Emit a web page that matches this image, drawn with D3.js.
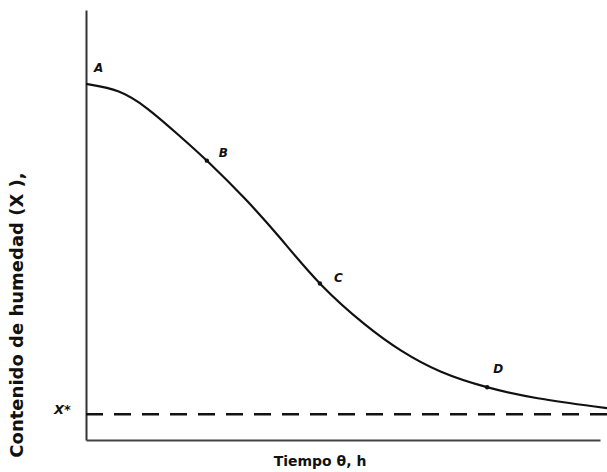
<!DOCTYPE html>
<html>
<head>
<meta charset="utf-8">
<script src="https://cdn.jsdelivr.net/npm/d3@7"></script>
<style>
body { margin: 0; background: #fff; }
</style>
</head>
<body>
<script>
// tiempo (unidades arbitrarias) y contenido de humedad (fracción del eje)
var tiempo  = [0, 0.65, 1.17, 1.8, 2.32, 3.09, 3.72, 4.49, 5.39, 6.03, 6.79, 7.7, 8.58, 10];
var humedad = [0.828, 0.815, 0.774, 0.707, 0.651, 0.558, 0.472, 0.358, 0.263, 0.207, 0.156, 0.121, 0.097, 0.074];
var puntos = ["A", "B", "C", "D"];
var puntosT = [0, 2.32, 4.49, 7.7];
var xEq = 0.06;

window.onload = function() {
	var svg = d3.select("body").append("svg")
	.attr("width", 607)
	.attr("height", 472);

	var x = d3.scaleLinear().domain([0, 10]).range([86, 607]);
	var y = d3.scaleLinear().domain([0, 1]).range([440, 10]);

	// ejes sin marcas
	svg.append("g")
	.attr("transform", "translate(86,0)")
	.call(d3.axisLeft(y).tickValues([]).tickSizeOuter(0))
	.select(".domain").attr("stroke", "#333").attr("stroke-width", 2);

	svg.append("g")
	.attr("transform", "translate(0,440)")
	.call(d3.axisBottom(d3.scaleLinear().domain([0, 10]).range([86, 600])).tickValues([]).tickSizeOuter(0))
	.select(".domain").attr("stroke", "#444").attr("stroke-width", 2);

	// humedad de equilibrio
	svg.append("line")
	.attr("x1", x(0)).attr("x2", x(10))
	.attr("y1", y(xEq)).attr("y2", y(xEq))
	.attr("stroke", "#111")
	.attr("stroke-width", 2.5)
	.attr("stroke-dasharray", "17,11");

	var data = tiempo.map(function(t, i) { return [t, humedad[i]]; });
	var line = d3.line()
	.x(function(d) { return x(d[0]); })
	.y(function(d) { return y(d[1]); })
	.curve(d3.curveBasis);

	var path = svg.append("path")
	.datum(data)
	.attr("d", line)
	.attr("fill", "none")
	.attr("stroke", "#111")
	.attr("stroke-width", 2.2);

	// punto de la curva para un tiempo dado
	var node = path.node();
	var total = node.getTotalLength();
	function onCurve(t) {
		var px = x(t), lo = 0, hi = total;
		for (var k = 0; k < 30; k++) {
			var mid = (lo + hi) / 2;
			if (node.getPointAtLength(mid).x < px) lo = mid; else hi = mid;
		}
		return node.getPointAtLength(lo);
	}
	var pos = puntosT.map(onCurve);
	var offs = [[8, -12], [12, -4], [14, -2], [6, -14]];

	svg.selectAll(".lbl")
	.data(puntos)
	.enter()
	.append("text")
	.attr("x", function(d, i) { return pos[i].x + offs[i][0]; })
	.attr("y", function(d, i) { return pos[i].y + offs[i][1]; })
	.attr("font-family", "DejaVu Sans")
	.attr("font-size", 12)
	.attr("font-weight", "bold")
	.attr("font-style", "italic")
	.attr("fill", "#111")
	.text(function(d) { return d; });

	svg.selectAll(".pt")
	.data(pos.slice(1))
	.enter()
	.append("circle")
	.attr("cx", function(d) { return d.x; })
	.attr("cy", function(d) { return d.y; })
	.attr("r", 2.2)
	.attr("fill", "#111");

	svg.append("text")
	.attr("x", 54).attr("y", y(xEq))
	.attr("font-family", "DejaVu Sans")
	.attr("font-size", 13)
	.attr("font-weight", "bold")
	.attr("font-style", "italic")
	.attr("fill", "#111")
	.text("X*");

	svg.append("text")
	.attr("transform", "translate(23,315) rotate(-90)")
	.attr("text-anchor", "middle")
	.attr("font-family", "DejaVu Sans")
	.attr("font-size", 18)
	.attr("font-weight", "bold")
	.attr("fill", "#111")
	.text("Contenido de humedad (X ),");

	svg.append("text")
	.attr("x", 320).attr("y", 466)
	.attr("text-anchor", "middle")
	.attr("font-family", "DejaVu Sans")
	.attr("font-size", 14)
	.attr("font-weight", "bold")
	.attr("fill", "#111")
	.text("Tiempo θ, h");
}
</script>
</body>
</html>
